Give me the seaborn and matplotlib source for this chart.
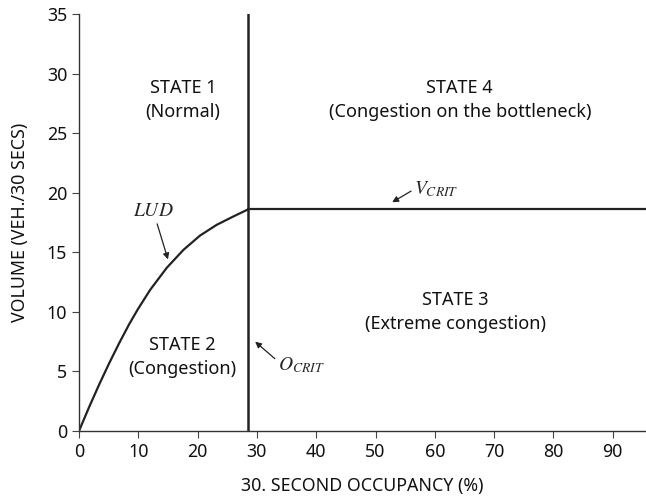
import matplotlib
matplotlib.use("Agg")
import matplotlib.pyplot as plt
import seaborn as sns
import pandas as pd
import numpy as np

# Data
occ = [0, 1.7, 3.4, 5.1, 6.8, 8.5, 9.9, 12.0, 14.8, 17.6, 20.4, 23.2, 26.0, 28.5]
vol = [0, 2.0, 3.9, 5.7, 7.4, 9.0, 10.2, 11.85, 13.7, 15.2, 16.4, 17.3, 18.0, 18.6]
o_crit = 28.5
v_crit = 18.6
x_max = 95.6
y_max = 35
x_ticks = [0, 10, 20, 30, 40, 50, 60, 70, 80, 90]
y_ticks = [0, 5, 10, 15, 20, 25, 30, 35]

sns.set_theme(style="ticks")
plt.rcParams['font.family'] = ['Noto Sans', 'DejaVu Sans']
plt.rcParams['mathtext.fontset'] = 'stix'

fig = plt.figure(figsize=(6.46, 4.99), dpi=100)
ax = fig.add_axes([79/646, 68/499, 1 - 79/646, (431-14)/499])

lc = '#222222'
df = pd.DataFrame({'occ': occ, 'vol': vol})
sns.lineplot(data=df, x='occ', y='vol', ax=ax, color=lc, lw=1.6, estimator=None)
hdf = pd.DataFrame({'occ': [o_crit, x_max], 'vol': [v_crit, v_crit]})
sns.lineplot(data=hdf, x='occ', y='vol', ax=ax, color=lc, lw=1.6, estimator=None)
vdf = pd.DataFrame({'occ': [o_crit, o_crit], 'vol': [0, y_max]})
sns.lineplot(data=vdf, x='occ', y='vol', ax=ax, color=lc, lw=1.8, sort=False, estimator=None)

ax.set_xlim(0, x_max)
ax.set_ylim(0, y_max)
ax.set_xticks(x_ticks)
ax.set_yticks(y_ticks)
sns.despine(ax=ax)
for s in ['left', 'bottom']:
    ax.spines[s].set_color('#333333')
    ax.spines[s].set_linewidth(1.0)
ax.tick_params(axis='both', labelsize=12.8, colors='#444444', labelcolor='#111111', length=5, width=0.8)
ax.set_xlabel('30. SECOND OCCUPANCY (%)', fontsize=12.8, color='#111111', labelpad=12)
ax.set_ylabel('VOLUME (VEH./30 SECS)', fontsize=12.8, color='#111111', labelpad=13)

tkw = dict(fontsize=13, ha='center', va='center', color='#111111', linespacing=1.4)
ax.text(17.5, 27.8, 'STATE 1\n(Normal)', **tkw)
ax.text(64.2, 27.8, 'STATE 4\n(Congestion on the bottleneck)', **tkw)
ax.text(17.5, 6.2, 'STATE 2\n(Congestion)', **tkw)
ax.text(63.4, 10.0, 'STATE 3\n(Extreme congestion)', **tkw)

akw = dict(arrowstyle='-|>', color='#222222', lw=0.9, mutation_scale=9, shrinkA=0, shrinkB=0)
ax.annotate('$LUD$', xy=(15.0, 14.4), xytext=(12.5, 18.5), fontsize=14,
            ha='center', va='center', arrowprops=akw)
ax.annotate('$O_{CRIT}$', xy=(29.7, 7.5), xytext=(37.5, 5.5), fontsize=14,
            ha='center', va='center', arrowprops=dict(akw, relpos=(0, 0.7)))
ax.annotate('$V_{CRIT}$', xy=(52.8, 19.2), xytext=(60.3, 20.3), fontsize=14,
            ha='center', va='center', arrowprops=dict(akw, relpos=(0, 0.5)))

fig.savefig('out.png', dpi=100)
